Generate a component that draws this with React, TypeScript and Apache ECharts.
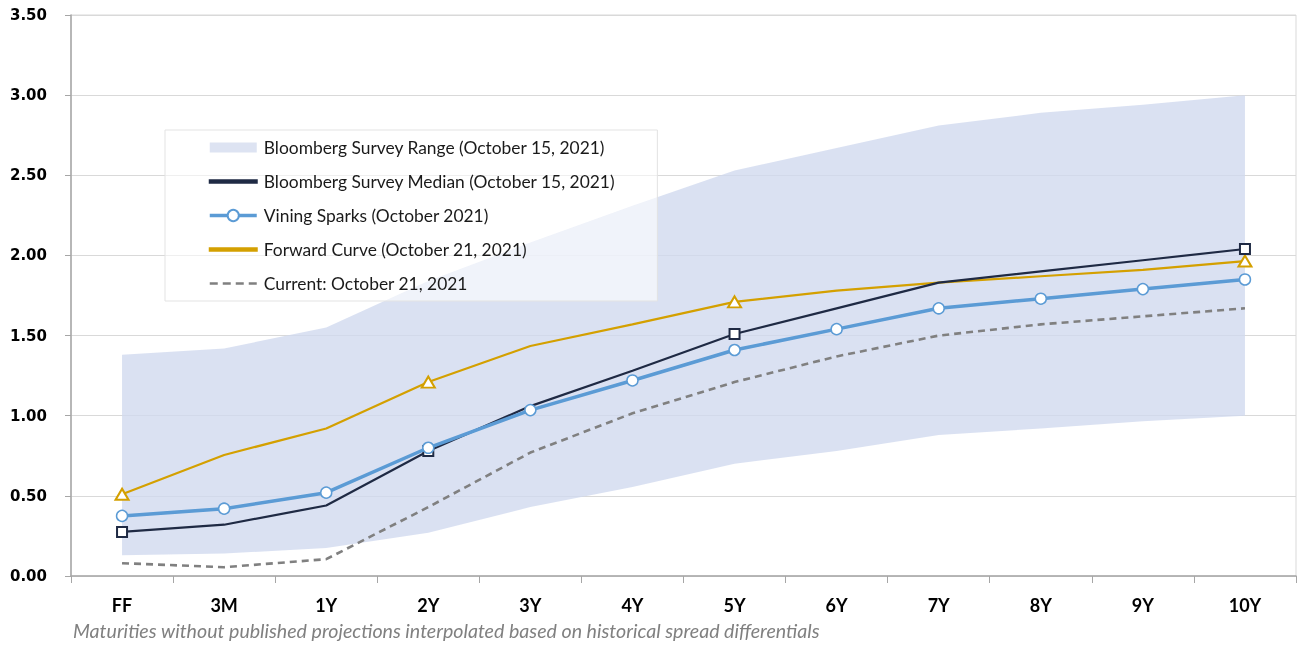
import React, { useEffect, useRef } from "react";
import * as echarts from "echarts";

const categories = ["FF", "3M", "1Y", "2Y", "3Y", "4Y", "5Y", "6Y", "7Y", "8Y", "9Y", "10Y"];
const rangeLow = [0.13, 0.14, 0.175, 0.27, 0.43, 0.555, 0.7, 0.78, 0.88, 0.92, 0.965, 1.0];
const rangeHigh = [1.38, 1.42, 1.55, 1.84, 2.08, 2.31, 2.53, 2.67, 2.81, 2.89, 2.94, 3.0];
const median = [0.275, 0.32, 0.44, 0.78, 1.06, 1.28, 1.51, 1.67, 1.83, 1.9, 1.97, 2.04];
const vining = [0.375, 0.42, 0.52, 0.8, 1.035, 1.22, 1.41, 1.54, 1.67, 1.73, 1.79, 1.85];
const forward = [0.51, 0.755, 0.92, 1.21, 1.435, 1.57, 1.71, 1.78, 1.83, 1.87, 1.91, 1.965];
const current = [0.08, 0.055, 0.105, 0.43, 0.77, 1.015, 1.21, 1.37, 1.5, 1.57, 1.62, 1.67];
const markerIdx = [0, 3, 6, 11];

const names = {
  range: "Bloomberg Survey Range (October 15, 2021)",
  median: "Bloomberg Survey Median (October 15, 2021)",
  vining: "Vining Sparks (October 2021)",
  forward: "Forward Curve (October 21, 2021)",
  current: "Current: October 21, 2021",
};
const footnote = "Maturities without published projections interpolated based on historical spread differentials";

const BAND = "rgba(208,217,238,0.78)";
const NAVY = "#1f2a44";
const BLUE = "#5b9bd5";
const GOLD = "#d4a000";
const GRAY = "#808080";

const ICON_RECT = "path://M0,0h47v10h-47z";
const ICON_LINE = "path://M0,0h47v2.6h-47z";
const ICON_DASH = "path://M0,0h8v2.6h-8zM13,0h8v2.6h-8zM26,0h8v2.6h-8zM39,0h8v2.6h-8z";

export default function App() {
  const ref = useRef<HTMLDivElement>(null);
  useEffect(() => {
    if (!ref.current) return;
    const chart = echarts.init(ref.current, null, { renderer: "svg" });
    const markItems = (arr: number[], sym: string, size: number | number[]) =>
      arr.map((v, i) =>
        markerIdx.includes(i) ? { value: v, symbol: sym, symbolSize: size } : { value: v, symbol: "none" }
      );
    chart.setOption({
      animation: false,
      grid: { left: 71, right: 3, top: 15, bottom: 72, show: true, borderColor: "#d9d9d9", borderWidth: 1 },
      legend: {
        orient: "vertical",
        left: 165,
        top: 130,
        padding: [9, 42, 9, 43],
        itemWidth: 47,
        itemHeight: 14,
        itemGap: 17,
        symbolKeepAspect: true,
        backgroundColor: "rgba(255,255,255,0.58)",
        borderColor: "#e3e3e3",
        borderWidth: 1,
        textStyle: { fontFamily: "Lato, 'Open Sans', sans-serif", fontSize: 17.4, color: "#1a1a1a", padding: [0, 0, 0, 2] },
        data: [
          { name: names.range, icon: ICON_RECT, itemStyle: { color: "#dde3f2" } },
          { name: names.median, icon: ICON_LINE, itemStyle: { color: NAVY } },
          { name: names.vining, lineStyle: { width: 3.5, color: BLUE } },
          { name: names.forward, icon: ICON_LINE, itemStyle: { color: GOLD } },
          { name: names.current, icon: ICON_DASH, itemStyle: { color: GRAY } },
        ],
        selectedMode: false,
      },
      graphic: [
        {
          type: "text",
          left: 73,
          top: 620,
          style: {
            text: footnote,
            fill: "#808080",
            font: "italic 19.6px Lato, 'Open Sans', sans-serif",
          },
        },
      ],
      xAxis: {
        type: "category",
        data: categories,
        boundaryGap: true,
        axisLine: { lineStyle: { color: "#a6a6a6", width: 1.5 } },
        axisTick: { show: true, length: 7, lineStyle: { color: "#a6a6a6" } },
        axisLabel: {
          margin: 20,
          color: "#000",
          fontWeight: "bold",
          fontSize: 18,
          fontFamily: "Lato, 'Open Sans', sans-serif",
        },
        splitLine: { show: false },
      },
      yAxis: {
        type: "value",
        min: 0,
        max: 3.5,
        interval: 0.5,
        axisLine: { show: true, lineStyle: { color: "#a6a6a6", width: 1.5 } },
        axisTick: { show: true, length: 6, lineStyle: { color: "#a6a6a6" } },
        axisLabel: {
          margin: 24,
          color: "#000",
          fontWeight: "bold",
          fontSize: 15,
          fontFamily: "'DejaVu Sans', Verdana, sans-serif",
          formatter: (v: number) => v.toFixed(2),
        },
        splitLine: { show: true, lineStyle: { color: "#d9d9d9", width: 1 } },
      },
      series: [
        {
          name: "base",
          type: "line",
          stack: "band",
          data: rangeLow,
          symbol: "none",
          lineStyle: { opacity: 0 },
          silent: true,
          z: 1,
        },
        {
          name: names.range,
          type: "line",
          stack: "band",
          data: rangeHigh.map((h, i) => +(h - rangeLow[i]).toFixed(3)),
          symbol: "none",
          lineStyle: { opacity: 0 },
          areaStyle: { color: BAND, opacity: 1 },
          itemStyle: { color: "#dde3f2" },
          silent: true,
          z: 1,
        },
        {
          name: names.current,
          type: "line",
          data: current,
          symbol: "none",
          lineStyle: { color: GRAY, width: 2.6, type: [7, 5] },
          itemStyle: { color: GRAY },
          z: 3,
        },
        {
          name: names.forward,
          type: "line",
          data: markItems(forward, "triangle", [13, 11]),
          symbol: "none",
          lineStyle: { color: GOLD, width: 2.2 },
          itemStyle: { color: "#fff", borderColor: GOLD, borderWidth: 2 },
          z: 4,
        },
        {
          name: names.median,
          type: "line",
          data: markItems(median, "rect", 10),
          symbol: "none",
          lineStyle: { color: NAVY, width: 2.2 },
          itemStyle: { color: "#fff", borderColor: NAVY, borderWidth: 2 },
          z: 5,
        },
        {
          name: names.vining,
          type: "line",
          data: vining,
          symbol: "circle",
          symbolSize: 11,
          lineStyle: { color: BLUE, width: 3.5 },
          itemStyle: { color: "#fff", borderColor: BLUE, borderWidth: 1.5 },
          z: 6,
        },
      ],
    });
    return () => chart.dispose();
  }, []);
  return <div ref={ref} style={{ position: "fixed", left: 0, top: 0, width: 1299, height: 648 }} />;
}
